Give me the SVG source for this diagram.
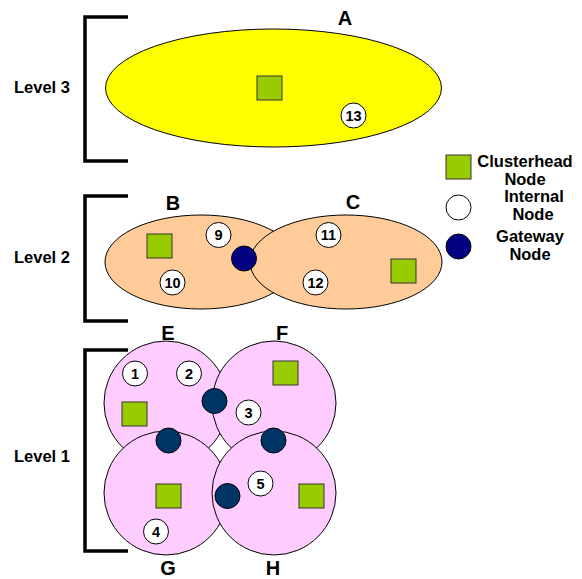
<svg xmlns="http://www.w3.org/2000/svg" width="582" height="579" viewBox="0 0 582 579">
<style>
text{font-family:"Liberation Sans",Arial,sans-serif;font-weight:bold;fill:#000}
.lvl{font-size:16.5px}
.lab{font-size:20px;text-anchor:middle}
.leg{font-size:16.5px;text-anchor:middle}
.num{font-size:14.5px;text-anchor:middle}
.br{fill:none;stroke:#000;stroke-width:3.5}
.ch{fill:#99CC00;stroke:#333;stroke-width:1}
.in{fill:#fff;stroke:#000;stroke-width:1}
.gw2{fill:#000080;stroke:#000;stroke-width:1}
.gw1{fill:#003366;stroke:#000;stroke-width:1}
.pk{fill:#FFCCFF;stroke:#000;stroke-width:1}
.pe{fill:#FFCC99;stroke:#000;stroke-width:1}
</style>
<rect width="582" height="579" fill="#fff"/>
<g id="brackets">
<path class="br" d="M128,17 H85 V161 H128"/>
<path class="br" d="M128,196 H85 V321 H128"/>
<path class="br" d="M128,350 H85 V551 H128"/>
<text class="lvl" x="14" y="93">Level 3</text>
<text class="lvl" x="14" y="263">Level 2</text>
<text class="lvl" x="14" y="462">Level 1</text>
</g>
<g id="cluster-A">
<ellipse cx="273.5" cy="88" rx="168" ry="59" fill="#FFFF00" stroke="#000" stroke-width="1"/>
<text class="lab" x="345" y="25">A</text>
</g>
<g id="cluster-B">
<ellipse class="pe" cx="201" cy="262" rx="96" ry="47"/>
<text class="lab" x="173" y="210">B</text>
</g>
<g id="cluster-C">
<ellipse class="pe" cx="346" cy="262" rx="96" ry="47"/>
<text class="lab" x="353" y="209">C</text>
</g>
<g id="cluster-E"><circle class="pk" cx="166" cy="403" r="62"/><text class="lab" x="168" y="340">E</text></g>
<g id="cluster-F"><circle class="pk" cx="274" cy="403" r="62"/><text class="lab" x="282" y="340">F</text></g>
<g id="cluster-G"><circle class="pk" cx="166" cy="493" r="62"/><text class="lab" x="168" y="575">G</text></g>
<g id="cluster-H"><circle class="pk" cx="274" cy="493" r="62"/><text class="lab" x="273" y="575">H</text></g>
<g id="clusterheads">
<rect class="ch" x="257" y="76" width="25" height="24"/>
<rect class="ch" x="147" y="234" width="25" height="24"/>
<rect class="ch" x="391" y="259" width="25" height="24"/>
<rect class="ch" x="122" y="402" width="25" height="24"/>
<rect class="ch" x="273" y="361" width="25" height="24"/>
<rect class="ch" x="156" y="484" width="25" height="24"/>
<rect class="ch" x="299" y="484" width="25" height="24"/>
</g>
<g id="gateways">
<circle class="gw2" cx="244" cy="258.5" r="12.5"/>
<circle class="gw1" cx="214.5" cy="401" r="12.5"/>
<circle class="gw1" cx="168.5" cy="440.5" r="12.5"/>
<circle class="gw1" cx="273.5" cy="440.5" r="12.5"/>
<circle class="gw1" cx="227.5" cy="496" r="12.5"/>
</g>
<g id="internal-nodes">
<g id="n13"><circle class="in" cx="353.5" cy="115.5" r="12.5"/><text class="num" x="353.5" y="120.5">13</text></g>
<g id="n9"><circle class="in" cx="218.5" cy="235" r="12.5"/><text class="num" x="218.5" y="240">9</text></g>
<g id="n10"><circle class="in" cx="172.5" cy="282.5" r="12.5"/><text class="num" x="172.5" y="287.5">10</text></g>
<g id="n11"><circle class="in" cx="328.5" cy="235" r="12.5"/><text class="num" x="328.5" y="240">11</text></g>
<g id="n12"><circle class="in" cx="315.5" cy="282.5" r="12.5"/><text class="num" x="315.5" y="287.5">12</text></g>
<g id="n1"><circle class="in" cx="135" cy="373.5" r="12.5"/><text class="num" x="135" y="378.5">1</text></g>
<g id="n2"><circle class="in" cx="189" cy="373.5" r="12.5"/><text class="num" x="189" y="378.5">2</text></g>
<g id="n3"><circle class="in" cx="248.5" cy="412.5" r="12.5"/><text class="num" x="248.5" y="417.5">3</text></g>
<g id="n4"><circle class="in" cx="156" cy="531.5" r="12.5"/><text class="num" x="156" y="536.5">4</text></g>
<g id="n5"><circle class="in" cx="260.5" cy="483.5" r="12.5"/><text class="num" x="260.5" y="488.5">5</text></g>
</g>
<g id="legend">
<rect class="ch" x="446" y="155" width="25" height="24"/>
<text class="leg" x="525" y="167">Clusterhead</text>
<text class="leg" x="525" y="185">Node</text>
<circle class="in" cx="458.5" cy="207.5" r="12.5"/>
<text class="leg" x="534" y="202">Internal</text>
<text class="leg" x="533" y="220">Node</text>
<circle class="gw2" cx="458.5" cy="246.5" r="12.5"/>
<text class="leg" x="530" y="242">Gateway</text>
<text class="leg" x="530" y="260">Node</text>
</g>
</svg>
